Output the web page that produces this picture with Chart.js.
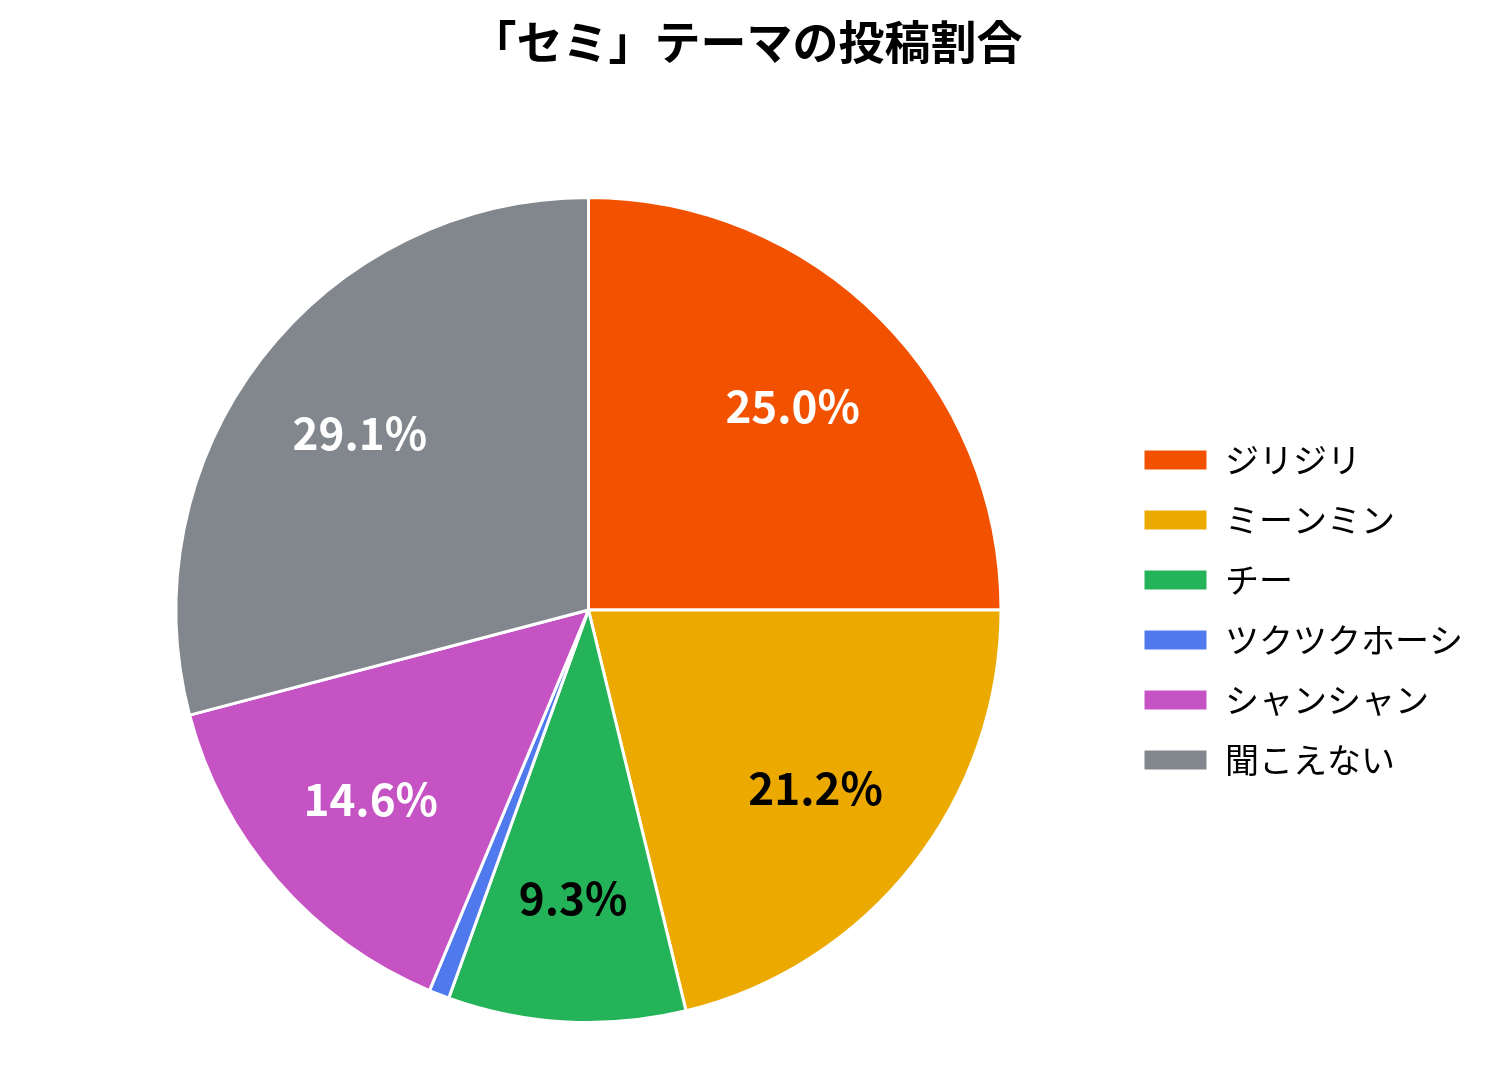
<!DOCTYPE html>
<html><head><meta charset="utf-8">
<script src="https://cdn.jsdelivr.net/npm/chart.js@4/dist/chart.umd.min.js"></script>
<style>html,body{margin:0;background:#fff}#wrap{width:1493px;height:1082px}</style>
</head><body><div id="wrap"><canvas id="pie"></canvas></div>
<script>
const labels = ['ジリジリ','ミーンミン','チー','ツクツクホーシ','シャンシャン','聞こえない'];
const values = [25.0, 21.2, 9.3, 0.8, 14.6, 29.1];
const colors = ['#f25200','#ecaa00','#25b35a','#4f79ec','#c653c4','#81878c'];
const labelColors = ['#fff','#000','#000',null,'#fff','#fff'];
const title = '「セミ」テーマの投稿割合';
const font = '"Noto Sans CJK JP", "Noto Sans", sans-serif';

const pctLabels = {
  id: 'pctLabels',
  afterDatasetsDraw(chart) {
    const ctx = chart.ctx;
    chart.getDatasetMeta(0).data.forEach((arc, i) => {
      if (!labelColors[i]) return;
      const a = (arc.startAngle + arc.endAngle) / 2;
      const r = arc.outerRadius * 0.7;
      ctx.save();
      ctx.font = 'bold 44px ' + font;
      ctx.fillStyle = labelColors[i];
      ctx.textAlign = 'center';
      ctx.textBaseline = 'middle';
      ctx.fillText(values[i].toFixed(1) + '%', arc.x + Math.cos(a) * r, arc.y + Math.sin(a) * r);
      ctx.restore();
    });
    // title centred on the whole canvas
    ctx.save();
    ctx.font = 'bold 46px ' + font;
    ctx.fillStyle = '#000';
    ctx.textAlign = 'center';
    ctx.textBaseline = 'middle';
    ctx.fillText(title, chart.width / 2, 42);
    ctx.restore();
  }
};

new Chart(document.getElementById('pie'), {
  type: 'pie',
  data: {labels: labels, datasets: [{data: values, backgroundColor: colors, borderColor: '#fff', borderWidth: 3}]},
  options: {
    responsive: true, maintainAspectRatio: false, animation: false,
    layout: {padding: {left: 60, right: 20, top: 196, bottom: 58}},
    plugins: {
      legend: {position: 'right',
        labels: {boxWidth: 65, boxHeight: 22, padding: 26, color: '#000',
          font: {family: font, size: 34}}},
      tooltip: {enabled: false}
    }
  },
  plugins: [pctLabels]
});
</script></body></html>
